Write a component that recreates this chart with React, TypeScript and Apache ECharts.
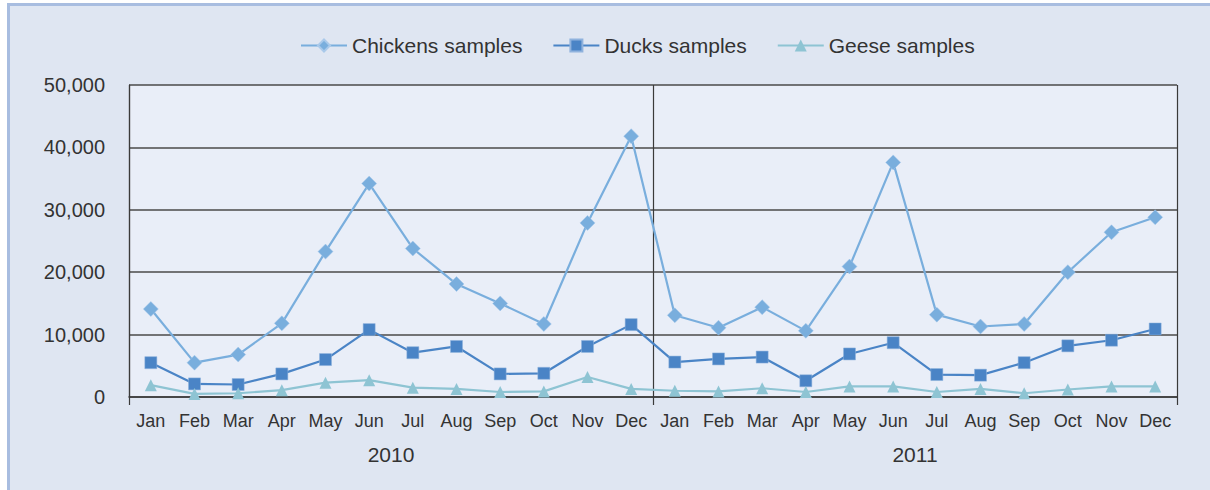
import React, { useEffect, useRef } from "react";
import * as echarts from "echarts";

const months = ["Jan", "Feb", "Mar", "Apr", "May", "Jun", "Jul", "Aug", "Sep", "Oct", "Nov", "Dec"];
const years = ["2010", "2011"];
const monthCategories = [...months, ...months];

const chickens = [
  14100, 5500, 6800, 11800, 23300, 34200, 23800, 18100, 15000, 11700, 27900, 41800,
  13100, 11100, 14400, 10600, 20900, 37600, 13200, 11300, 11700, 20000, 26400, 28800,
];
const ducks = [
  5500, 2100, 2000, 3700, 6000, 10800, 7100, 8100, 3700, 3800, 8100, 11600,
  5600, 6100, 6400, 2600, 6900, 8700, 3600, 3500, 5500, 8200, 9100, 10900,
];
const geese = [
  1900, 500, 600, 1100, 2300, 2700, 1500, 1300, 800, 900, 3200, 1300,
  1000, 900, 1400, 800, 1700, 1700, 800, 1300, 600, 1200, 1700, 1700,
];

const TEXT = "#333333";
const FONT = "'Liberation Sans', Arial, sans-serif";

export default function App() {
  const ref = useRef<HTMLDivElement>(null);
  useEffect(() => {
    document.body.style.margin = "0";
    const chart = echarts.init(ref.current!, null, { renderer: "svg" });
    chart.setOption({
      animation: false,
      backgroundColor: "#ffffff",
      textStyle: { fontFamily: FONT },
      graphic: [
        {
          type: "rect",
          z: -10,
          silent: true,
          shape: { x: 8.5, y: 4.5, width: 1300, height: 600 },
          style: { fill: "#dfe6f2", stroke: "#a8bde0", lineWidth: 3 },
        },
      ],
      legend: {
        left: 295,
        top: 30,
        itemWidth: 46,
        itemHeight: 15,
        itemGap: 30,
        textStyle: { fontSize: 21, color: TEXT, fontFamily: FONT },
        data: ["Chickens samples", "Ducks samples", "Geese samples"],
      },
      grid: {
        left: 129,
        top: 85,
        width: 1048,
        height: 312,
        show: true,
        backgroundColor: "#e9eef8",
        borderWidth: 0,
      },
      xAxis: [
        {
          type: "category",
          data: monthCategories,
          position: "bottom",
          boundaryGap: true,
          axisLine: { show: true, lineStyle: { color: "#3a3a3a", width: 1.5 } },
          axisTick: { show: false },
          axisLabel: { color: TEXT, fontSize: 18, margin: 15, interval: 0, fontFamily: FONT },
          splitLine: { show: false },
        },
        {
          type: "category",
          data: years,
          position: "bottom",
          offset: 0,
          boundaryGap: true,
          axisLine: { show: false },
          axisTick: { show: true, length: 8, lineStyle: { color: "#3a3a3a", width: 1.2 } },
          axisLabel: { color: TEXT, fontSize: 21, margin: 47, fontFamily: FONT },
          splitLine: { show: true, lineStyle: { color: "#3a3a3a", width: 1.2 } },
        },
      ],
      yAxis: {
        type: "value",
        min: 0,
        max: 50000,
        interval: 10000,
        axisLine: { show: true, lineStyle: { color: "#3a3a3a", width: 1.2 } },
        axisTick: { show: false },
        axisLabel: {
          color: TEXT,
          fontSize: 20,
          margin: 24,
          fontFamily: FONT,
          formatter: (v: number) => v.toLocaleString("en-US"),
        },
        splitLine: { show: true, lineStyle: { color: "#4a4a4a", width: 1.5 } },
      },
      series: [
        {
          name: "Chickens samples",
          type: "line",
          data: chickens,
          xAxisIndex: 0,
          symbol: "diamond",
          symbolSize: 15,
          color: "#79aedd",
          lineStyle: { width: 2.2, color: "#79aedd" },
          itemStyle: { color: "#79aedd", borderColor: "#a9c9ea", borderWidth: 0.5 },
          z: 3,
        },
        {
          name: "Ducks samples",
          type: "line",
          data: ducks,
          xAxisIndex: 0,
          symbol: "rect",
          symbolSize: 12,
          color: "#4a84c6",
          lineStyle: { width: 2.2, color: "#4a84c6" },
          itemStyle: { color: "#4a84c6", borderColor: "#8fb2dd", borderWidth: 0.5 },
          z: 3,
        },
        {
          name: "Geese samples",
          type: "line",
          data: geese,
          xAxisIndex: 0,
          symbol: "triangle",
          symbolSize: 12,
          color: "#8ec4d3",
          lineStyle: { width: 2.2, color: "#8ec4d3" },
          itemStyle: { color: "#8ec4d3" },
          z: 3,
        },
      ],
    });
    return () => chart.dispose();
  }, []);
  return (
    <div
      ref={ref}
      style={{ position: "fixed", left: 0, top: 0, width: 1210, height: 490 }}
    />
  );
}
